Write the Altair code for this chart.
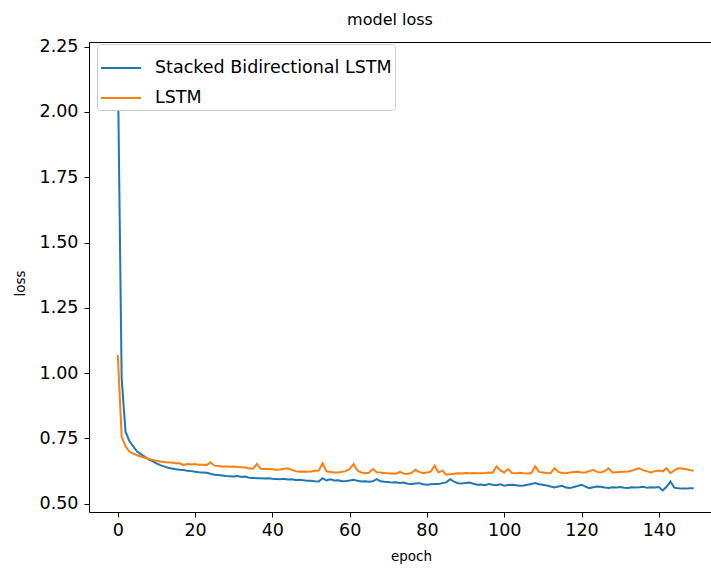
import altair as alt
import pandas as pd

epochs = list(range(150))

stacked_bilstm = [
    2.19, 0.98, 0.776, 0.74, 0.72, 0.70, 0.69, 0.68, 0.670, 0.663,
    0.655, 0.648, 0.643, 0.638, 0.635, 0.632, 0.630, 0.629, 0.626, 0.625,
    0.623, 0.621, 0.620, 0.619, 0.615, 0.611, 0.610, 0.608, 0.606, 0.605,
    0.604, 0.606, 0.603, 0.604, 0.600, 0.599, 0.598, 0.598, 0.597, 0.598,
    0.596, 0.595, 0.594, 0.596, 0.593, 0.594, 0.591, 0.592, 0.590, 0.588,
    0.588, 0.586, 0.585, 0.598, 0.589, 0.594, 0.589, 0.590, 0.586, 0.587,
    0.589, 0.592, 0.588, 0.585, 0.586, 0.584, 0.586, 0.594, 0.586, 0.584,
    0.583, 0.581, 0.582, 0.580, 0.581, 0.577, 0.576, 0.578, 0.579, 0.575,
    0.573, 0.575, 0.576, 0.576, 0.579, 0.582, 0.594, 0.585, 0.579, 0.578,
    0.580, 0.581, 0.577, 0.573, 0.574, 0.571, 0.576, 0.573, 0.571, 0.575,
    0.569, 0.572, 0.573, 0.571, 0.569, 0.570, 0.573, 0.576, 0.579, 0.575,
    0.573, 0.570, 0.566, 0.562, 0.566, 0.569, 0.562, 0.560, 0.564, 0.568,
    0.573, 0.566, 0.560, 0.563, 0.566, 0.565, 0.562, 0.560, 0.563, 0.562,
    0.564, 0.561, 0.560, 0.563, 0.562, 0.563, 0.565, 0.561, 0.563, 0.562,
    0.564, 0.551, 0.565, 0.585, 0.562, 0.559, 0.558, 0.558, 0.559, 0.559,
]

lstm = [
    1.07, 0.757, 0.72, 0.70, 0.692, 0.686, 0.681, 0.676, 0.672, 0.668,
    0.665, 0.662, 0.660, 0.658, 0.658, 0.655, 0.655, 0.649, 0.652, 0.650,
    0.652, 0.649, 0.649, 0.648, 0.659, 0.646, 0.645, 0.643, 0.643, 0.642,
    0.643, 0.641, 0.640, 0.639, 0.636, 0.634, 0.653, 0.634, 0.633, 0.633,
    0.632, 0.630, 0.631, 0.634, 0.636, 0.630, 0.625, 0.623, 0.624, 0.623,
    0.624, 0.626, 0.627, 0.655, 0.624, 0.622, 0.620, 0.620, 0.623, 0.625,
    0.633, 0.652, 0.627, 0.620, 0.617, 0.619, 0.633, 0.621, 0.620, 0.618,
    0.617, 0.616, 0.615, 0.622, 0.616, 0.614, 0.618, 0.630, 0.622, 0.617,
    0.620, 0.623, 0.646, 0.620, 0.627, 0.611, 0.613, 0.615, 0.617, 0.616,
    0.618, 0.617, 0.618, 0.617, 0.617, 0.618, 0.620, 0.619, 0.643, 0.628,
    0.620, 0.633, 0.618, 0.617, 0.619, 0.617, 0.616, 0.618, 0.643, 0.622,
    0.620, 0.618, 0.617, 0.636, 0.622, 0.618, 0.617, 0.620, 0.622, 0.623,
    0.620, 0.620, 0.625, 0.630, 0.622, 0.620, 0.625, 0.636, 0.620, 0.621,
    0.622, 0.623, 0.624, 0.626, 0.632, 0.636, 0.628, 0.624, 0.620, 0.625,
    0.627, 0.624, 0.636, 0.617, 0.628, 0.636, 0.635, 0.632, 0.629, 0.626,
]

series_names = ["Stacked Bidirectional LSTM", "LSTM"]
series_colors = ["#1f77b4", "#ff7f0e"]
x_ticks = [0, 20, 40, 60, 80, 100, 120, 140]
y_ticks = [0.50, 0.75, 1.00, 1.25, 1.50, 1.75, 2.00, 2.25]

rows = []
for e, v in zip(epochs, stacked_bilstm):
    rows.append({"epoch": e, "loss": v, "model": series_names[0]})
for e, v in zip(epochs, lstm):
    rows.append({"epoch": e, "loss": v, "model": series_names[1]})
df = pd.DataFrame(rows)

FONT = "DejaVu Sans"
TICK_FS = 17.5
W, H = 622, 470

x_scale = alt.Scale(domain=[-7.45, 153.5], nice=False, zero=False)
y_scale = alt.Scale(domain=[0.4685, 2.268], nice=False, zero=False)

y_axis = alt.Axis(values=y_ticks, title="loss", format=".2f",
                  domainColor="black", tickColor="black", tickSize=5,
                  labelPadding=6, labelColor="black", labelFontSize=TICK_FS,
                  labelFont=FONT, titleFont=FONT, titleFontSize=13.5,
                  titleFontWeight="normal", titleColor="black",
                  titlePadding=12, titleY=241, grid=False, labelFlush=False)

lines = alt.Chart(df).mark_line(strokeWidth=2, clip=True).encode(
    x=alt.X("epoch:Q", scale=x_scale,
            axis=alt.Axis(values=x_ticks, title="epoch", format="d",
                          domainColor="black", tickColor="black", tickSize=5,
                          labelPadding=4, labelColor="black",
                          labelFontSize=TICK_FS, labelFont=FONT,
                          titleFont=FONT, titleFontSize=13.5,
                          titleFontWeight="normal", titleColor="black",
                          titlePadding=11, titleX=322, grid=False,
                          labelFlush=False)),
    y=alt.Y("loss:Q", scale=y_scale, axis=y_axis),
    color=alt.Color("model:N",
                    scale=alt.Scale(domain=series_names, range=series_colors),
                    sort=series_names,
                    legend=alt.Legend(orient="none", legendX=8, legendY=2,
                                      title=None, symbolType="stroke",
                                      symbolSize=1600, symbolStrokeWidth=2,
                                      labelFontSize=TICK_FS, labelFont=FONT,
                                      labelColor="black", labelOffset=13,
                                      labelLimit=0,
                                      rowPadding=-12, padding=3,
                                      strokeColor="#cccccc", fillColor="white",
                                      cornerRadius=3)),
)

top_border = alt.Chart(df).mark_line(opacity=0).encode(
    x=alt.X("epoch:Q", scale=x_scale,
            axis=alt.Axis(orient="top", labels=False, ticks=False, title=None,
                          domainColor="black", grid=False)),
    y=alt.Y("loss:Q", scale=y_scale, axis=y_axis),
)

chart = alt.layer(lines, top_border).resolve_axis(x="independent").properties(
    width=W, height=H,
    title=alt.TitleParams("model loss", font=FONT, fontSize=16,
                          fontWeight="normal", color="black", anchor="middle",
                          dx=-10, offset=10),
    padding={"left": 89, "top": 42, "right": 0, "bottom": 57},
    autosize=alt.AutoSizeParams(type="none"),
).configure_view(stroke=None).configure(background="white")

chart.save("out.html", embed_options={"renderer": "svg", "actions": False})
